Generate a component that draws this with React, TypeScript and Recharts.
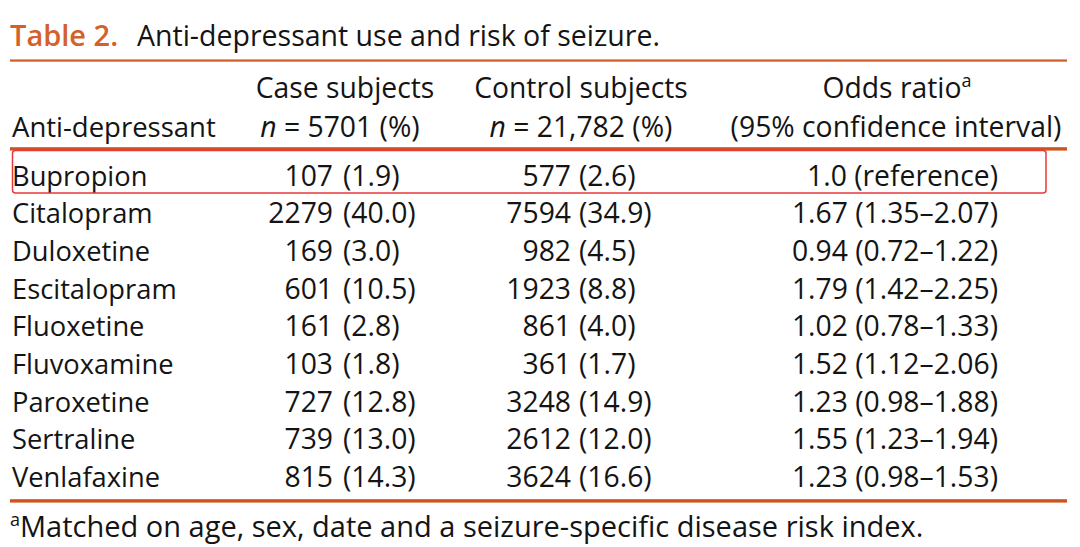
import React from 'react';
import { ScatterChart, Scatter, XAxis, YAxis } from 'recharts';

// ---- data ----
const drugs = ['Bupropion', 'Citalopram', 'Duloxetine', 'Escitalopram', 'Fluoxetine', 'Fluvoxamine', 'Paroxetine', 'Sertraline', 'Venlafaxine'];
const caseCounts = [107, 2279, 169, 601, 161, 103, 727, 739, 815];
const casePercents = [1.9, 40.0, 3.0, 10.5, 2.8, 1.8, 12.8, 13.0, 14.3];
const controlCounts = [577, 7594, 982, 1923, 861, 361, 3248, 2612, 3624];
const controlPercents = [2.6, 34.9, 4.5, 8.8, 4.0, 1.7, 14.9, 12.0, 16.6];
const oddsRatios = ['1.0', '1.67', '0.94', '1.79', '1.02', '1.52', '1.23', '1.55', '1.23'];
const ciLower = ['', '1.35', '0.72', '1.42', '0.78', '1.12', '0.98', '1.23', '0.98'];
const ciUpper = ['', '2.07', '1.22', '2.25', '1.33', '2.06', '1.88', '1.94', '1.53'];
const referenceLabel = 'reference';

const titleLabel = 'Table 2.';
const titleText = 'Anti-depressant use and risk of seizure.';
const headerRowLabel = 'Anti-depressant';
const caseHeader = ['Case subjects', '5701'];
const controlHeader = ['Control subjects', '21,782'];
const oddsHeader = ['Odds ratio', '(95% confidence interval)'];
const footnote = 'Matched on age, sex, date and a seizure-specific disease risk index.';

// ---- layout / style ----
const W = 1080;
const H = 547;
const AXIS_W = 12;
const FONT = '"Open Sans", "Noto Sans", sans-serif';
const TEXT = '#141414';
const ORANGE = '#d4602a';
const RULE = '#d0531d';
const BOX = '#e8383d';
const FS = 28.3;
const NAME_FS = 27.3;
const BASE = 10; // cap-center to baseline
const COL = { case: 333, control: 571, odds: 998 };
const PCT_GAP = { case: 10, control: 8 };

const caseData = drugs.map((d, i) => ({ drug: d, x: COL.case, n: caseCounts[i], pct: casePercents[i] }));
const controlData = drugs.map((d, i) => ({ drug: d, x: COL.control, n: controlCounts[i], pct: controlPercents[i] }));
const oddsData = drugs.map((d, i) => ({
  drug: d,
  x: COL.odds,
  label: ciLower[i] ? `${oddsRatios[i]} (${ciLower[i]}\u2013${ciUpper[i]})` : `${oddsRatios[i]} (${referenceLabel})`,
}));

const CountCell = (gap: number) => (props: any) => {
  const { cx, cy, payload } = props;
  return (
    <g>
      <text x={cx} y={cy + BASE} textAnchor="end" fontFamily={FONT} fontSize={FS} fill={TEXT}>{payload.n}</text>
      <text x={cx + gap} y={cy + BASE} textAnchor="start" fontFamily={FONT} fontSize={FS} fill={TEXT}>({payload.pct.toFixed(1)})</text>
    </g>
  );
};

const OddsCell = (props: any) => {
  const { cx, cy, payload } = props;
  return (
    <text x={cx} y={cy + BASE} textAnchor="end" fontFamily={FONT} fontSize={FS} fill={TEXT}>{payload.label}</text>
  );
};

const DrugTick = (props: any) => {
  const { y, payload } = props;
  return (
    <text x={12} y={y + BASE} textAnchor="start" fontFamily={FONT} fontSize={NAME_FS} fill={TEXT}>{payload.value}</text>
  );
};

export default function App() {
  return (
    <div style={{ position: 'absolute', left: 0, top: 0, width: W, height: H, background: '#fff', overflow: 'hidden' }}>
      <svg width={W} height={H} style={{ position: 'absolute', left: 0, top: 0 }}>
        <text y={46} fontFamily={FONT} fontSize={28.5}>
          <tspan x={10} fill={ORANGE} fontWeight={600} fontSize={29}>{titleLabel}</tspan>
          <tspan x={137} fill={TEXT}>{titleText}</tspan>
        </text>
        <rect x={10} y={59.4} width={1057} height={2.3} fill={ORANGE} />
        <text x={345} y={97.5} textAnchor="middle" fontFamily={FONT} fontSize={FS} fill={TEXT}>{caseHeader[0]}</text>
        <text x={581} y={97.5} textAnchor="middle" fontFamily={FONT} fontSize={FS} fill={TEXT}>{controlHeader[0]}</text>
        <text x={897} y={97.5} textAnchor="middle" fontFamily={FONT} fontSize={FS} fill={TEXT}>
          {oddsHeader[0]}
          <tspan fontSize={18} dy={-11}>a</tspan>
        </text>
        <text x={12} y={136.5} fontFamily={FONT} fontSize={27.5} fill={TEXT}>{headerRowLabel}</text>
        <text x={340} y={136.5} textAnchor="middle" fontFamily={FONT} fontSize={FS} fill={TEXT}>
          <tspan fontStyle="italic">n</tspan>
          <tspan>{' = ' + caseHeader[1] + ' (%)'}</tspan>
        </text>
        <text x={581} y={136.5} textAnchor="middle" fontFamily={FONT} fontSize={FS} fill={TEXT}>
          <tspan fontStyle="italic">n</tspan>
          <tspan>{' = ' + controlHeader[1] + ' (%)'}</tspan>
        </text>
        <text x={896} y={136.5} textAnchor="middle" fontFamily={FONT} fontSize={FS} fill={TEXT}>{oddsHeader[1]}</text>
        <rect x={10} y={147.2} width={1057} height={3.4} fill={RULE} />
        <rect x={10} y={499.2} width={1057} height={3.4} fill={RULE} />
        <text y={537} fontFamily={FONT} fontSize={29} fill={TEXT}>
          <tspan x={10} fontSize={18} dy={-11}>a</tspan>
          <tspan dy={11}>{footnote}</tspan>
        </text>
      </svg>
      <div style={{ position: 'absolute', left: 0, top: 0 }}>
        <ScatterChart width={W} height={H} margin={{ top: 156.7, right: 0, bottom: 51.2, left: 0 }}>
          <XAxis type="number" dataKey="x" domain={[AXIS_W, W]} hide />
          <YAxis
            type="category"
            dataKey="drug"
            allowDuplicatedCategory={false}
            reversed
            width={AXIS_W}
            axisLine={false}
            tickLine={false}
            tick={<DrugTick />}
            interval={0}
          />
          <Scatter data={caseData} shape={CountCell(PCT_GAP.case)} isAnimationActive={false} />
          <Scatter data={controlData} shape={CountCell(PCT_GAP.control)} isAnimationActive={false} />
          <Scatter data={oddsData} shape={OddsCell} isAnimationActive={false} />
        </ScatterChart>
      </div>
      <svg width={W} height={H} style={{ position: 'absolute', left: 0, top: 0, pointerEvents: 'none' }}>
        <rect x={12.5} y={150.5} width={1033.5} height={42.5} rx={3} fill="none" stroke={BOX} strokeWidth={1.5} />
      </svg>
    </div>
  );
}
